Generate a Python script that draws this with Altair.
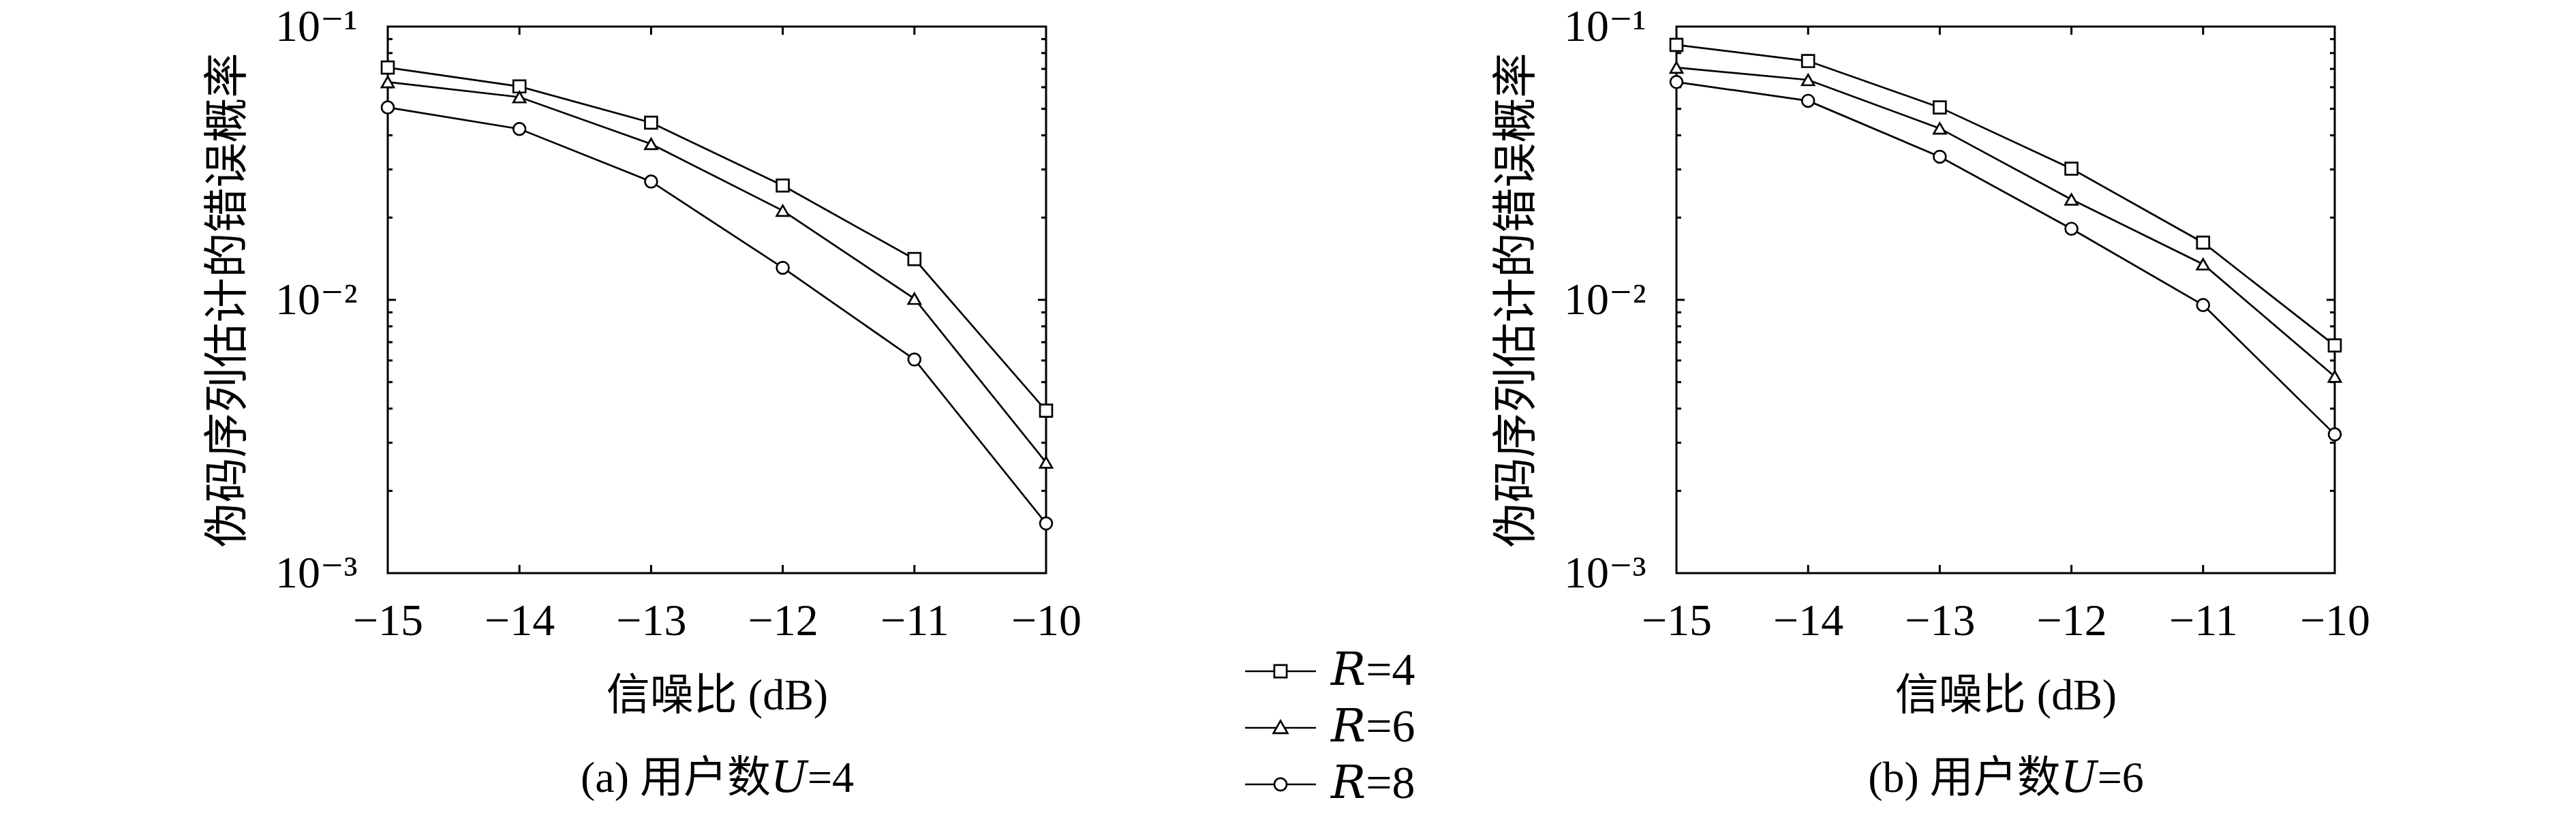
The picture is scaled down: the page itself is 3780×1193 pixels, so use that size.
import altair as alt
import pandas as pd

# ---------------- data ----------------
snr = [-15, -14, -13, -12, -11, -10]
series_names = ["𝑅=4", "𝑅=6", "𝑅=8"]

# (a) U = 4
u4_r4 = [0.0708, 0.0604, 0.0445, 0.0262, 0.0141, 0.00393]
u4_r6 = [0.0627, 0.0552, 0.0372, 0.0212, 0.0101, 0.00254]
u4_r8 = [0.0506, 0.0422, 0.0271, 0.0131, 0.00605, 0.00152]

# (b) U = 6
u6_r4 = [0.0857, 0.0748, 0.0506, 0.0302, 0.0162, 0.00681]
u6_r6 = [0.0708, 0.0638, 0.0424, 0.0233, 0.0135, 0.00524]
u6_r8 = [0.0627, 0.0535, 0.0334, 0.0182, 0.00957, 0.00322]

captions = ["(a) 用户数𝑈=4", "(b) 用户数𝑈=6"]
x_title = "信噪比 (dB)"
y_title = "伪码序列估计的错误概率"

y_label_values = [0.001, 0.01, 0.1]
y_minor_ticks = [0.002, 0.003, 0.004, 0.005, 0.006, 0.007, 0.008, 0.009,
                 0.02, 0.03, 0.04, 0.05, 0.06, 0.07, 0.08, 0.09]
y_major_ticks = [0.01]
x_inner_ticks = [-14, -13, -12, -11]

# ---------------- style ----------------
FONT = "Liberation Serif, DejaVu Serif, Noto Sans CJK SC"
W, H = 966, 802
LW = 2.7
MINOR, MAJOR = 7, 12

point_shapes = ["square", "triangle-up", "circle"]
# legend glyphs: line sample with the marker in its middle (unit = 26 px)
legend_paths = [
    "M-2,0H-0.35M0.35,0H2M-0.35,-0.35H0.35V0.35H-0.35Z",
    "M-2,0H-0.229M0.229,0H2M0,-0.4L0.4,0.3H-0.4Z",
    "M-2,0H-0.35M0.35,0H2M-0.35,0A0.35,0.35,0,1,0,0.35,0A0.35,0.35,0,1,0,-0.35,0Z",
]

xscale = alt.Scale(domain=[-15, -10], nice=False, zero=False)
yscale = alt.Scale(type="log", domain=[0.001, 0.1], nice=False)


def make_x_axis(caption):
    return alt.Axis(
        title=[x_title, caption], values=snr, format="d", grid=False,
        domain=False, ticks=False, tickSize=0, labelFont=FONT,
        labelFontSize=66, labelPadding=38, labelFlush=False,
        titleFont=FONT, titleFontSize=64,
        titleFontWeight="normal", titlePadding=45, titleLineHeight=121,
        labelColor="black", titleColor="black",
    )


y_axis = alt.Axis(
    title=y_title, values=y_label_values, grid=False, domain=False,
    ticks=False, tickSize=0, labelFont=FONT, labelFontSize=66,
    labelPadding=45, labelFlush=False,
    labelExpr="datum.value < 0.005 ? '10⁻³' : (datum.value < 0.05 ? '10⁻²' : '10⁻¹')",
    titleFont=FONT, titleFontSize=66, titleFontWeight="normal",
    titlePadding=35, labelColor="black", titleColor="black",
)


def long_df(r4, r6, r8):
    rows = []
    for name, vals in zip(series_names, [r4, r6, r8]):
        for x, v in zip(snr, vals):
            rows.append({"snr": x, "ber": v, "series": name})
    return pd.DataFrame(rows)


def panel(df, caption, with_legend):
    x_axis = make_x_axis(caption)
    X = alt.X("snr:Q", scale=xscale, axis=x_axis)
    Y = alt.Y("ber:Q", scale=yscale, axis=y_axis)

    base = alt.Chart(df)
    lines = base.mark_line(color="black", strokeWidth=LW).encode(
        x=X, y=Y, detail="series:N")
    pts = base.mark_point(filled=True, fill="white", stroke="black",
                          strokeWidth=LW, opacity=1, size=320).encode(
        x=X, y=Y,
        shape=alt.Shape("series:N",
                        scale=alt.Scale(domain=series_names, range=point_shapes),
                        legend=None),
    )

    ym = pd.DataFrame({"ber": y_minor_ticks})
    yM = pd.DataFrame({"ber": y_major_ticks})
    xt = pd.DataFrame({"snr": x_inner_ticks})
    ticks = []
    for tdf, ln in [(ym, MINOR), (yM, MAJOR)]:
        ticks.append(alt.Chart(tdf).mark_rule(color="black", strokeWidth=3).encode(
            y=Y, x=alt.value(0), x2=alt.value(ln)))
        ticks.append(alt.Chart(tdf).mark_rule(color="black", strokeWidth=3).encode(
            y=Y, x=alt.value(W), x2=alt.value(W - ln)))
    ticks.append(alt.Chart(xt).mark_rule(color="black", strokeWidth=3).encode(
        x=X, y=alt.value(H), y2=alt.value(H - MAJOR)))
    ticks.append(alt.Chart(xt).mark_rule(color="black", strokeWidth=3).encode(
        x=X, y=alt.value(0), y2=alt.value(MAJOR)))

    layers = [lines] + ticks + [pts]
    if with_legend:
        leg = base.mark_point(opacity=0, filled=False, color="black").encode(
            x=X, y=Y,
            shape=alt.Shape(
                "series:N",
                scale=alt.Scale(domain=series_names, range=legend_paths),
                legend=alt.Legend(
                    title=None, orient="none", legendX=1276, legendY=912,
                    symbolSize=2704, symbolStrokeWidth=LW,
                    symbolStrokeColor="black", symbolOpacity=1,
                    labelFont=FONT, labelFontSize=68, labelColor="black",
                    labelOffset=40, rowPadding=15, labelLimit=400,
                ),
            ),
        )
        layers.append(leg)
    return alt.layer(*layers).resolve_scale(shape="independent").properties(
        width=W, height=H)


left = panel(long_df(u4_r4, u4_r6, u4_r8), captions[0], True)
right = panel(long_df(u6_r4, u6_r6, u6_r8), captions[1], False)

chart = alt.hconcat(left, right, spacing=111).resolve_scale(
    shape="independent").resolve_legend(shape="independent").properties(
    padding={"left": 291, "top": -4, "right": 0, "bottom": 0},
    background="white",
).configure_view(stroke="black", strokeWidth=3)

chart.save("out.html", embed_options={"renderer": "svg", "actions": False})
